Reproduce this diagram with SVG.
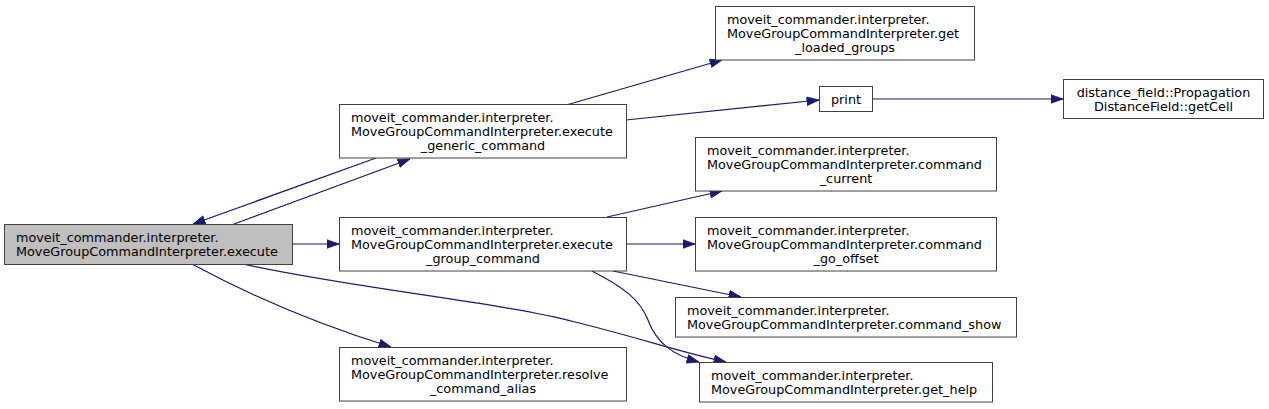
<svg xmlns="http://www.w3.org/2000/svg" width="1269" height="409" viewBox="0 0 1269 409">
<defs>
<style>
.n rect{fill:#ffffff;stroke:#404040;stroke-width:1}
.n.root rect{fill:#bfbfbf}
.n text{font-family:"DejaVu Sans","Liberation Sans",sans-serif;font-size:12.8px;fill:#000000}
.n text.c{text-anchor:middle}
.e path{fill:none;stroke:#191970;stroke-width:1.2;marker-end:url(#arr)}
</style>
<marker id="arr" markerUnits="userSpaceOnUse" markerWidth="14" markerHeight="10" refX="12.5" refY="4.75" orient="auto">
<path d="M0.5,0.5 L12.5,4.75 L0.5,9 z" fill="#191970" stroke="#191970" stroke-width="0.8"/>
</marker>
</defs>
<rect width="1269" height="409" fill="#ffffff"/>
<g id="edges" class="e">
<path d="M234,224 L410,159"/>
<path d="M376,158 L193,224"/>
<path d="M292,244 L339,244"/>
<path d="M192,264 C240,290 310,322 391,347"/>
<path d="M243,264 C350,288 500,302 575,322 C640,338 680,352 726,362"/>
<path d="M592,271 C625,288 640,300 648,320 C656,342 672,355 699,362"/>
<path d="M568,104.5 L722,60"/>
<path d="M626,120 L819,100"/>
<path d="M872,99 L1063,99"/>
<path d="M607,217 L722,191"/>
<path d="M626,244 L695,244"/>
<path d="M613,271 L741,297"/>
</g>
<g id="node-execute" class="n root">
<rect x="4.5" y="224.5" width="288" height="40"/>
<text x="16" y="241.5">moveit_commander.interpreter.</text>
<text x="16" y="255.5">MoveGroupCommandInterpreter.execute</text>
</g>
<g id="node-execute-generic-command" class="n">
<rect x="339.5" y="104.5" width="287" height="53.5"/>
<text x="351" y="122">moveit_commander.interpreter.</text>
<text x="351" y="136">MoveGroupCommandInterpreter.execute</text>
<text class="c" x="483" y="150">_generic_command</text>
</g>
<g id="node-execute-group-command" class="n">
<rect x="339.5" y="217.5" width="287" height="53.5"/>
<text x="351" y="235">moveit_commander.interpreter.</text>
<text x="351" y="249">MoveGroupCommandInterpreter.execute</text>
<text class="c" x="483" y="263">_group_command</text>
</g>
<g id="node-resolve-command-alias" class="n">
<rect x="339.5" y="347.5" width="287" height="53.5"/>
<text x="351" y="365">moveit_commander.interpreter.</text>
<text x="351" y="379">MoveGroupCommandInterpreter.resolve</text>
<text class="c" x="483" y="393">_command_alias</text>
</g>
<g id="node-get-loaded-groups" class="n">
<rect x="715.5" y="6.5" width="259" height="53.5"/>
<text x="727" y="24">moveit_commander.interpreter.</text>
<text x="727" y="38">MoveGroupCommandInterpreter.get</text>
<text class="c" x="845" y="52">_loaded_groups</text>
</g>
<g id="node-print" class="n">
<rect x="819.5" y="86.5" width="53" height="25"/>
<text class="c" x="846" y="103.5">print</text>
</g>
<g id="node-getCell" class="n">
<rect x="1063.5" y="79.5" width="200" height="39"/>
<text class="c" x="1163.5" y="96.5">distance_field::Propagation</text>
<text class="c" x="1163.5" y="110.5">DistanceField::getCell</text>
</g>
<g id="node-command-current" class="n">
<rect x="695.5" y="137.5" width="301" height="53.5"/>
<text x="707" y="155">moveit_commander.interpreter.</text>
<text x="707" y="169">MoveGroupCommandInterpreter.command</text>
<text class="c" x="846" y="183">_current</text>
</g>
<g id="node-command-go-offset" class="n">
<rect x="695.5" y="217.5" width="301" height="53.5"/>
<text x="707" y="235">moveit_commander.interpreter.</text>
<text x="707" y="249">MoveGroupCommandInterpreter.command</text>
<text class="c" x="846" y="263">_go_offset</text>
</g>
<g id="node-command-show" class="n">
<rect x="675.5" y="297.5" width="341" height="39.5"/>
<text x="687" y="314.5">moveit_commander.interpreter.</text>
<text x="687" y="328.5">MoveGroupCommandInterpreter.command_show</text>
</g>
<g id="node-get-help" class="n">
<rect x="699.5" y="362.5" width="293" height="39.5"/>
<text x="711" y="379.5">moveit_commander.interpreter.</text>
<text x="711" y="393.5">MoveGroupCommandInterpreter.get_help</text>
</g>
</svg>
